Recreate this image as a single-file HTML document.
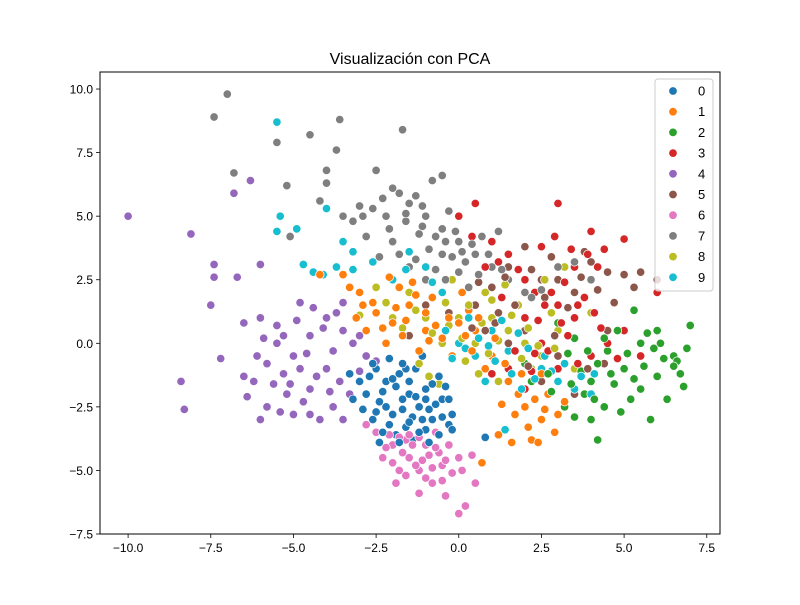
<!DOCTYPE html>
<html><head><meta charset="utf-8"><style>
body{margin:0;background:#fff;}
svg text{font-family:"Liberation Sans","DejaVu Sans",sans-serif;}
</style></head><body>
<svg id="chart" width="800" height="600" viewBox="0 0 800 600">
<rect x="0" y="0" width="800" height="600" fill="#fff"/>
<text x="410" y="64" font-size="16" text-anchor="middle" fill="#000">Visualización con PCA</text>
<g id="marks"></g>
<rect x="100" y="72" width="620" height="462" fill="none" stroke="#000" stroke-width="1"/>
<g id="axes"></g>
<g id="legend"></g>
</svg>
<script>
const classes = ["0","1","2","3","4","5","6","7","8","9"];
const xTicks = [-10.0,-7.5,-5.0,-2.5,0.0,2.5,5.0,7.5];
const yTicks = [-7.5,-5.0,-2.5,0.0,2.5,5.0,7.5,10.0];
const colors = ["#1f77b4","#ff7f0e","#2ca02c","#d62728","#9467bd","#8c564b","#e377c2","#7f7f7f","#bcbd22","#17becf"];
const pts0 = [[-2.5,-1],[-2.2,-1.5],[-1.8,-1.2],[-1.5,-2],[-1.2,-2.5],[-1,-1.8],[-0.8,-3],[-2,-2.8],[-1.6,-3.3],[-2.8,-2],[-3,-1.5],[-0.5,-2.2],[-0.3,-3.2],[-1.3,-1],[-2.4,-2.3],[-1.9,-3.6],[-0.9,-2.6],[-1.4,-3.8],[-2.1,-0.6],[-0.6,-1.3],[-1.1,-0.5],[-2.6,-3],[-0.2,-2.8],[0.8,-3.7],[-1.7,-2.2],[-1,-3.4],[-2.9,-2.6],[-0.4,-1.7],[-1.5,-1.5],[-2.3,-3.5],
[-2.7,-1.3],[-2.3,-1.9],[-1.9,-1.7],[-1.7,-2.6],[-1.3,-2.1],[-1.1,-3],[-0.7,-2.4],[-2.5,-2.7],[-2.1,-3.2],[-1.8,-3.9],[-1.2,-3.5],[-0.9,-3.9],[-0.5,-2.9],[-0.3,-2.2],[-0.8,-1.6],[-1.6,-1],[-2,-1.4],[-2.6,-0.8],[-3.2,-2.2],[-3.3,-1.2],[-1.4,-2.9],[-0.6,-3.6],[-1.7,-0.8],[-2.2,-2.5],[-1,-2.2],[-0.2,-3.4],[-1.5,-3.1],[-2.4,-3.9]];
const pts1 = [[-3,2],[-2.5,1.2],[-2,0.8],[-1.5,1.5],[-1,0.5],[-0.5,0.2],[0,0.8],[0.5,0.5],[1,-0.5],[1.5,-1.5],[2,-2.5],[2.5,-3],[2.2,-3.8],[1.2,-3.6],[-2.8,0.5],[-1.8,2.2],[-3.5,2.7],[-0.8,1.8],[0.3,1.3],[0.8,-1],[1.8,-2],[3,-2.8],[2.7,-2],[-2.2,0],[-1.2,-0.3],[0.7,-4.7],[1.6,-3.9],[-3.1,1],[-0.2,-0.5],[2.5,-1.2],[-4.2,2.7],[0.1,2],
[-2.6,1.6],[-2.3,0.6],[-1.9,1.4],[-1.6,0.9],[-1.3,1.9],[-1,1.2],[-0.7,0.7],[-0.3,1],[0.2,0.3],[0.6,1],[1.1,0.2],[1.4,-0.8],[1.9,-1.2],[2.3,-2.2],[2.6,-2.6],[2.1,-3.3],[2.9,-3.5],[1.7,-2.8],[-2.9,1.5],[-3.3,2.2],[-2.1,2.6],[-1.4,2.4],[0.4,-0.3],[1.3,-2.4],[2.4,-3.9],[3.2,-2.3],[-0.9,0.1],[-1.7,0.3]];
const pts2 = [[2.5,-0.5],[3,-1],[3.5,0.2],[4,-1.5],[4.5,-0.3],[5,-1],[5.5,0],[6,0.5],[6.5,-0.5],[7,0.7],[6.8,-1.7],[6,-1.3],[5.8,-3],[4.2,-3.8],[4.4,-2.5],[5.2,-2.2],[3.8,-2],[3.2,-2.5],[2.2,-1.5],[4.8,0.5],[5.5,-1.8],[6.3,-2.2],[4,-3],[6.6,-0.7],[5.3,1.3],[3,0.8],[4.7,-1.6],[2,-0.8],[6.1,0],
[3.3,-0.4],[3.7,-1.1],[4.2,-0.8],[4.6,-1.2],[5.1,-0.4],[5.6,-0.9],[6.2,-0.6],[6.5,-0.9],[5.9,-0.2],[4.9,-2.7],[4.1,-2.2],[3.5,-2.9],[2.8,-1.9],[3.9,-0.3],[5.3,-1.4],[6.7,-1.2],[6.9,-0.2],[4.4,0.2],[2.7,-1.2],[3.4,-1.6],[5.7,0.4]];
const pts3 = [[0,5],[0.5,5.5],[1,4],[1.5,3.5],[2,2.5],[2.5,3.8],[3,5.5],[3.5,3],[4,4.4],[4.4,3.7],[5,4.1],[6,2],[3,1.5],[3.5,1],[2.5,0],[3,-1],[4,-0.5],[4.5,0],[5,0.5],[2,1],[1.5,-1],[2.8,2],[3.8,1.8],[4.2,3],[1,-1.2],[0.8,3],[3.3,0.3],[2,-1.8],[5.5,-0.5],[2.3,-0.4],
[1.2,3.2],[1.8,2.9],[2.3,2],[2.6,1.5],[3.2,2.4],[3.6,1.5],[4.1,1.2],[3.4,3.7],[2.9,4.2],[3.1,0.8],[2.7,-0.3],[2.2,-1.1],[1.7,-0.3],[3.6,-0.8],[4.3,0.6],[4.8,-0.6],[2.4,0.9],[1.3,1.8],[0.4,4.2],[3.9,3.5]];
const pts4 = [[-10,5],[-8.1,4.3],[-6.8,5.9],[-6.3,6.4],[-7.4,3.1],[-7.4,2.6],[-6.7,2.6],[-6,3.1],[-7.5,1.5],[-7.2,-0.6],[-8.4,-1.5],[-8.3,-2.6],[-6.5,0.8],[-6,1],[-5.5,0],[-5,-0.5],[-4.5,0.3],[-4,-1],[-3.5,0.5],[-3,-1.1],[-6.2,-1.5],[-5.8,-2.5],[-5,-2.8],[-4.2,-3],[-3.8,-2.5],[-4.8,1.6],[-3.5,1.6],[-5.3,-1.2],[-4.5,-1.8],[-6.5,-1.3],[-3.2,0],[-2.5,-0.7],[-5.5,0.7],[-4,1],[-6,-3],[-3.5,-3],[-4.5,-2.8],[-5.2,-2],
[-5.8,-0.8],[-5.6,-1.6],[-5.1,-1.6],[-4.8,-1],[-4.6,-0.4],[-4.3,-1.3],[-4.1,0.6],[-3.8,-0.3],[-3.6,-1.5],[-3.3,-2],[-3,0.3],[-2.8,-0.5],[-4.9,0.9],[-5.3,0.3],[-6.1,-0.5],[-6.4,-2.1],[-5.4,-2.7],[-4.7,-2.3],[-3.9,-1.9],[-4.4,1.4],[-3.7,1.2],[-5.9,0.2]];
const pts5 = [[-1,1.5],[-0.5,2],[0,1],[0.5,1.5],[1,2.2],[1.5,3],[2,3.8],[2.5,2.5],[3,2.5],[3.5,2],[4,3.2],[4.5,2.8],[5,2.7],[5.5,2.8],[6,2.5],[4,1.2],[4.5,0.5],[3,-0.5],[2.5,-1.5],[3.5,-2],[2,0.5],[1.5,0],[0.8,0.5],[-1.5,0.3],[3.8,3.6],[2.8,3.4],[4.4,-0.8],[1.2,1.2],
[2.2,2.9],[2.6,1.8],[3.3,1.4],[3.7,2.6],[4.2,2.1],[1.7,1.5],[1.1,0.8],[0.4,0.6],[-0.3,1.2],[2.9,0.3],[3.9,-1],[4.7,1.6],[5.3,2.2],[2.1,-0.9],[1.4,2.6],[0.6,2.4]];
const pts6 = [[-2.5,-3.5],[-2,-4],[-1.5,-4.5],[-1,-4],[-0.5,-4.8],[0,-4.5],[-1.2,-5],[-0.8,-5.5],[-0.4,-6],[0,-6.7],[0.5,-5.5],[0.2,-6.4],[-1.8,-5],[-2.3,-4.5],[-1.9,-5.5],[-0.3,-4],[0.4,-4.4],[-1.6,-3.8],[-0.7,-3.5],[-1.1,-4.6],[-2.8,-3.2],[-1.2,-5.9],[-0.6,-4.3],[-2.1,-3.6],
[-2.2,-4.1],[-1.7,-4.3],[-1.4,-4],[-1.3,-4.8],[-0.9,-4.4],[-0.8,-4.9],[-0.2,-5.1],[-0.5,-5.4],[-1,-5.3],[-1.6,-5.2],[-2,-4.7],[-1.8,-3.7],[-1.2,-3.7],[-0.4,-4.6],[0.1,-5],[-2.4,-3.9],[-0.7,-4.1],[-1.5,-3.6]];
const pts7 = [[-7,9.8],[-7.4,8.9],[-5.5,7.9],[-4.5,8.2],[-3.6,8.8],[-3.7,7.6],[-1.7,8.4],[-6.8,6.7],[-5.2,6.2],[-4,6.8],[-4,6.3],[-3.5,5],[-3,5.4],[-2.5,6.8],[-2,6.1],[-1.5,5.5],[-1,5],[-0.5,4.5],[0,4],[0.5,3.5],[1,3],[1.5,2.5],[2,2],[-2,4],[-1.5,3],[-1,2.5],[-0.5,3.5],[0,2.8],[-0.3,5.2],[0.7,4.2],[-0.8,6.4],[-0.5,6.6],[-2.8,4.2],[-4.2,5.6],[-5.1,4.2],[-1.2,4.3],[0.3,2.2],[3,3],[3.5,3.2],[4,2.5],[2.2,1.8],[0.2,3.2],[-1.6,4.8],[-2.4,3.4],[1.2,4.4],
[-1.8,5.9],[-1.3,5.8],[-1.6,5.1],[-2.2,5],[-2.6,5.3],[-1.1,4.6],[-0.7,4.2],[-0.9,3.7],[-0.4,4],[-0.2,3.4],[0.4,3.9],[0.9,3.5],[-1.3,3.3],[-1.8,3.5],[-0.7,2.9],[0.1,3.6],[-0.1,4.4],[-2.1,4.5],[-2.9,5],[-3.2,4.8],[-2.3,5.7],[0.6,2.7],[1.3,2.9],[2.5,2.1],[-0.4,2.5],[-1.1,5.4]];
const pts8 = [[-2,1],[-1.5,2],[-1,1],[-0.5,0],[0,1],[0.5,0],[1,1],[1.5,0.5],[2,0],[2.5,-0.5],[3,0.5],[3.5,-1],[-0.2,2.5],[0.8,2],[1.8,1.5],[2.8,1.2],[3.2,3],[-1.2,-0.8],[-0.6,-1.6],[0.2,-0.7],[1.2,-1.5],[2.2,-1],[-3,1.1],[0.6,-1.2],[1.4,2.3],[-2.5,2.2],[4,1.2],[2.6,2.5],
[-1.7,0.6],[-1.3,1.3],[-0.8,0.4],[-0.3,0.7],[0.3,1.5],[0.7,0.8],[1.2,0.1],[1.6,1.1],[2.1,0.6],[2.4,-0.1],[0.9,-0.4],[0.1,0.2],[-0.4,1.6],[1,1.7],[1.9,-0.6],[2.9,-0.2],[-0.9,-1.3],[-2.2,1.6]];
const pts9 = [[-5.5,8.7],[-5.4,5],[-4.9,4.5],[-4,5.3],[-5.5,4.4],[-3.5,4],[-3.7,3],[-3.2,3.6],[-4.4,2.8],[-4.1,2.7],[-2,2.5],[-1,3],[-0.5,2],[0,0],[0.5,-0.5],[1,0.5],[1.5,-0.3],[2,-0.8],[2.5,-1],[3,-1.5],[3.5,-1.8],[4,-2],[1.4,-3.4],[0.8,-1.5],[1.8,0.4],[-3.2,2.9],[4.1,-1.2],[0.3,1],[2.6,-0.5],[-1.5,3.6],[-0.2,-0.6],
[0.6,0.2],[1.1,-0.7],[1.6,-1.2],[2.1,-0.2],[2.3,-1.4],[2.8,-1.1],[3.2,-0.8],[1.3,0.9],[0.2,-0.2],[-0.4,0.5],[-0.8,2.4],[-1.6,2.9],[-2.6,3.2],[-4.7,3.1],[1.9,-1.8],[3.7,-1.3],[0.9,-0.1]];
const series = [pts0,pts1,pts2,pts3,pts4,pts5,pts6,pts7,pts8,pts9];

const NS = "http://www.w3.org/2000/svg";
const X0=100,X1=720,Y0=72,Y1=534;
const xMin=-10.85,xMax=7.9,yMin=-7.5,yMax=10.67;
function sx(v){return X0+(v-xMin)/(xMax-xMin)*(X1-X0);}
function sy(v){return Y1-(v-yMin)/(yMax-yMin)*(Y1-Y0);}
function mk(tag,attrs){const e=document.createElementNS(NS,tag);for(const k in attrs)e.setAttribute(k,attrs[k]);return e;}

const marks=document.getElementById('marks');
let maxLen=Math.max(...series.map(s=>s.length));
for(let i=0;i<maxLen;i++){
  for(let c=0;c<series.length;c++){
    const p=series[c][i]; if(!p) continue;
    const el=mk('circle',{cx:sx(p[0]),cy:sy(p[1]),r:4.2,fill:colors[c],stroke:'#fff','stroke-width':0.7});
    
    
    marks.appendChild(el);
  }
}

const axes=document.getElementById('axes');
function fmt(v){return (v<0?'\u2212':'')+Math.abs(v).toFixed(1);}
xTicks.forEach(t=>{
  const x=sx(t);
  const ln=mk('line',{x1:x,x2:x,y1:Y1,y2:Y1+4,stroke:'#000','stroke-width':0.8});
  
  
  axes.appendChild(ln);
  const tx=mk('text',{x:x,y:Y1+18,'font-size':12,'text-anchor':'middle',fill:'#000'});
  tx.textContent=fmt(t);
  
  
  axes.appendChild(tx);
});
yTicks.forEach(t=>{
  const y=sy(t);
  const ln=mk('line',{x1:X0-4,x2:X0,y1:y,y2:y,stroke:'#000','stroke-width':0.8});
  
  
  axes.appendChild(ln);
  const tx=mk('text',{x:X0-7,y:y+4.5,'font-size':12,'text-anchor':'end',fill:'#000'});
  tx.textContent=fmt(t);
  
  
  axes.appendChild(tx);
});

const lg=document.getElementById('legend');
const box=mk('rect',{x:655,y:79,width:58,height:212,rx:3,fill:'#fff','fill-opacity':0.8,stroke:'#ccc','stroke-width':1});


lg.appendChild(box);
classes.forEach((c,i)=>{
  const y=91+i*20.7;
  const m=mk('circle',{cx:673,cy:y,r:4.3,fill:colors[i],stroke:'#fff','stroke-width':0.8});
  
  
  lg.appendChild(m);
  const t=mk('text',{x:698,y:y+4.5,'font-size':13,fill:'#000'});
  t.textContent=c;
  
  
  lg.appendChild(t);
});
</script>
</body></html>
